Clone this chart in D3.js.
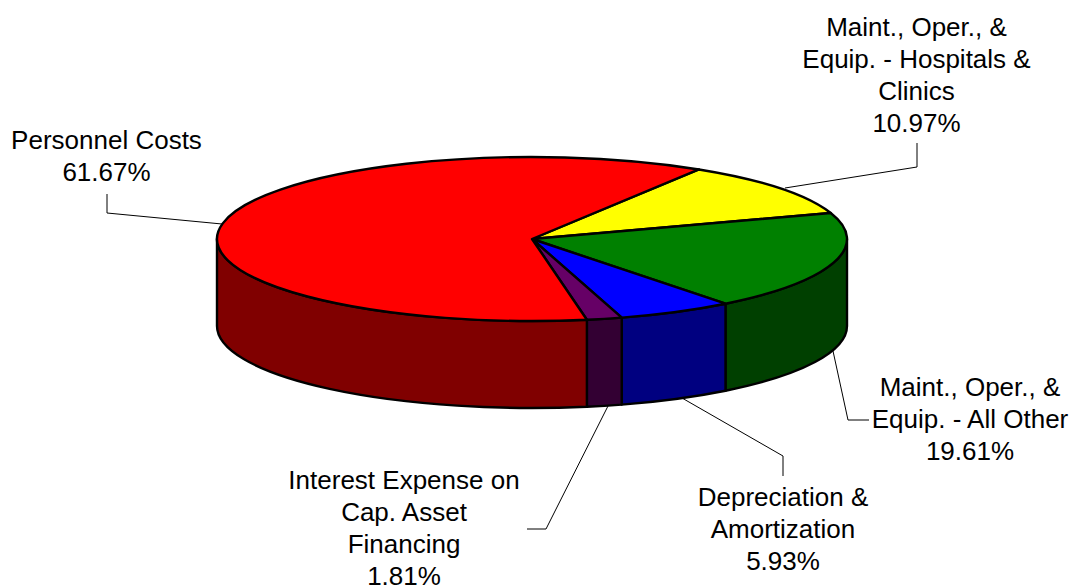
<!DOCTYPE html>
<html><head><meta charset="utf-8">
<script src="https://cdn.jsdelivr.net/npm/d3@7"></script>
<style>html,body{margin:0;background:#fff}svg{display:block}text{font-family:"Liberation Sans",Arial,sans-serif;font-size:26px;fill:#000}</style>
</head><body><svg id="c" width="1074" height="588"></svg>
<script>
const categories=["Maint., Oper., & Equip. - Hospitals & Clinics","Maint., Oper., & Equip. - All Other","Depreciation & Amortization","Interest Expense on Cap. Asset Financing","Personnel Costs"];
const values=[10.97,19.61,5.93,1.81,61.67];
const topColors=["#ffff00","#008000","#0000ff","#660066","#ff0000"];
const sideColors=["#808000","#004000","#000080","#330033","#800000"];
const labelLines=[["Maint., Oper., &","Equip. - Hospitals &","Clinics","10.97%"],["Maint., Oper., &","Equip. - All Other","19.61%"],["Depreciation &","Amortization","5.93%"],["Interest Expense on","Cap. Asset","Financing","1.81%"],["Personnel Costs","61.67%"]];
const labelX=[916.5,970,783,404,106.5];
const labelY=[27,387,497,480,140];
const leaders=[[[785,188],[917,167],[917,143]],[[833,351],[848,420],[869,420]],[[682,398],[783,456],[783,476]],[[608,406],[546,529],[527,529]],[[222,224],[107,213],[107,194]]];

const cx=532,cy=239,rx=315,ry=82,depth=87,startAngle=32*Math.PI/180;
const svg=d3.select("#c");
const pie=d3.pie().sort(null).startAngle(startAngle).endAngle(startAngle+2*Math.PI)(values);
const px=a=>cx+rx*Math.sin(a), py=a=>cy-ry*Math.cos(a);

// visible wall of each slice: front half only (angles between PI/2 and 3PI/2)
function wall(a0,a1){
  const lo=Math.max(a0,Math.PI/2), hi=Math.min(a1,3*Math.PI/2);
  if(hi<=lo) return null;
  const large=hi-lo>Math.PI?1:0;
  return `M${px(lo)},${py(lo)}A${rx},${ry} 0 ${large} 1 ${px(hi)},${py(hi)}L${px(hi)},${py(hi)+depth}A${rx},${ry} 0 ${large} 0 ${px(lo)},${py(lo)+depth}Z`;
}
const g=svg.append("g");
g.selectAll("path.wall").data(pie).join("path").attr("class","wall")
 .attr("d",d=>wall(d.startAngle,d.endAngle)).attr("fill",d=>sideColors[d.index])
 .attr("stroke","#000").attr("stroke-width",2.4).attr("stroke-linejoin","round");
const arc=d3.arc().innerRadius(0).outerRadius(rx);
g.selectAll("path.top").data(pie).join("path").attr("class","top")
 .attr("d",arc).attr("transform",`translate(${cx},${cy}) scale(1,${ry/rx})`)
 .attr("vector-effect","non-scaling-stroke")
 .attr("fill",d=>topColors[d.index])
 .attr("stroke","#000").attr("stroke-width",2.4).attr("stroke-linejoin","round");

const line=d3.line();
svg.selectAll("path.leader").data(leaders).join("path").attr("class","leader")
 .attr("d",line).attr("fill","none").attr("stroke","#000").attr("stroke-width",1);

const lh=32;
svg.selectAll("text.lab").data(labelLines).join("text").attr("class","lab")
 .attr("text-anchor","middle")
 .each(function(d,i){
   d3.select(this).selectAll("tspan").data(d).join("tspan")
    .attr("x",labelX[i]).attr("y",(t,j)=>labelY[i]+j*lh+9).text(t=>t);
 });
</script></body></html>
